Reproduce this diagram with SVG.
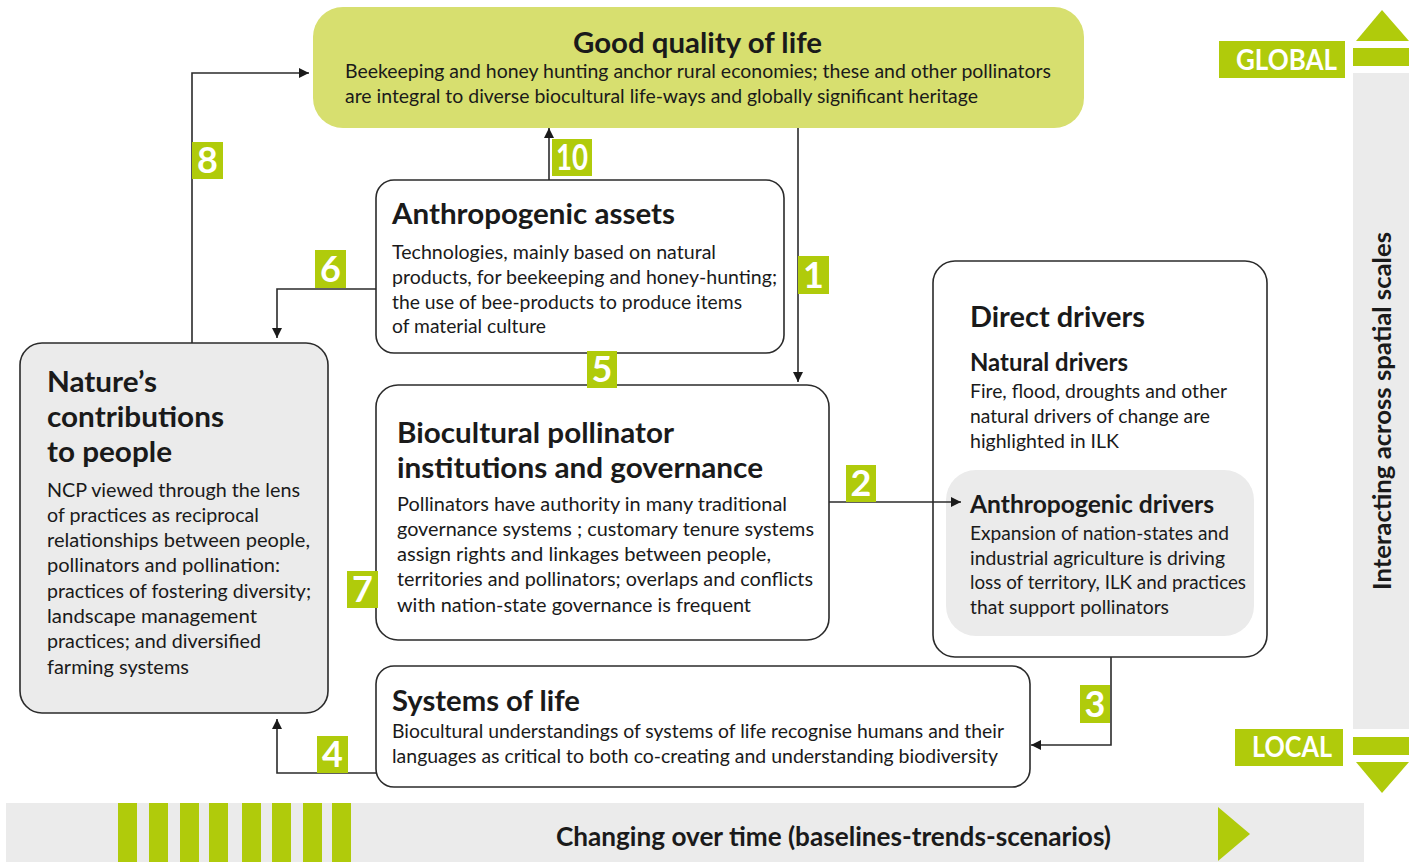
<svg xmlns="http://www.w3.org/2000/svg" width="1409" height="862" viewBox="0 0 1409 862">
<defs>
<marker id="ah" viewBox="0 0 10 10" refX="10" refY="5" markerWidth="10" markerHeight="10" markerUnits="userSpaceOnUse" orient="auto">
<path d="M0,0 L10,5 L0,10 Z" fill="#1a1a1a"/>
</marker>
<style>
.box{fill:#ffffff;stroke:#2b2b2b;stroke-width:1.6}
.grey{fill:#ebebeb}
.t{font-family:Lato,"Open Sans","Liberation Sans",sans-serif;fill:#1a1a1a}
.h{font-weight:700;font-size:29px}
.s{font-weight:700;font-size:24px}
.b{font-size:19.5px}
.num{font-family:Lato,"Open Sans","Liberation Sans",sans-serif;font-weight:700;font-size:36px;fill:#ffffff;text-anchor:middle}
.lab{fill:#b0cb0b}
.con{fill:none;stroke:#2b2b2b;stroke-width:1.6}
.w{font-family:Lato,"Open Sans","Liberation Sans",sans-serif;font-weight:700;font-size:29px;fill:#ffffff}
</style>
</defs>
<rect width="1409" height="862" fill="#ffffff"/>

<!-- side scale bar -->
<g id="scale">
<rect x="1353" y="73" width="56" height="656" class="grey"/>
<rect x="1353" y="48" width="56" height="18" class="lab"/>
<polygon points="1382,10 1409,41 1356,41" class="lab"/>
<rect x="1353" y="737" width="56" height="18" class="lab"/>
<polygon points="1356,762 1409,762 1382,793" class="lab"/>
<rect x="1219" y="41" width="126" height="37" class="lab"/>
<text x="1236" y="70" class="w" textLength="101" lengthAdjust="spacingAndGlyphs">GLOBAL</text>
<rect x="1235" y="729" width="108" height="37" class="lab"/>
<text x="1252" y="757" class="w" textLength="80" lengthAdjust="spacingAndGlyphs">LOCAL</text>
<text transform="translate(1391,590) rotate(-90)" class="t" font-weight="700" font-size="25" textLength="358" lengthAdjust="spacingAndGlyphs">Interacting across spatial scales</text>
</g>

<!-- time bar -->
<g id="time">
<rect x="6" y="803" width="1358" height="59" class="grey"/>
<rect x="118" y="803" width="19" height="59" class="lab"/>
<rect x="149" y="803" width="19" height="59" class="lab"/>
<rect x="180" y="803" width="19" height="59" class="lab"/>
<rect x="209" y="803" width="19" height="59" class="lab"/>
<rect x="242" y="803" width="19" height="59" class="lab"/>
<rect x="272" y="803" width="19" height="59" class="lab"/>
<rect x="303" y="803" width="19" height="59" class="lab"/>
<rect x="332" y="803" width="19" height="59" class="lab"/>
<polygon points="1218,807 1250,834 1218,861" class="lab"/>
<text x="556" y="846" class="t" font-weight="700" font-size="27" textLength="555" lengthAdjust="spacingAndGlyphs">Changing over time (baselines-trends-scenarios)</text>
</g>

<!-- nodes -->
<g id="good-quality">
<rect x="313" y="7" width="771" height="121" rx="30" fill="#d7df6f"/>
<text x="573" y="53" class="t h" textLength="249" lengthAdjust="spacingAndGlyphs">Good quality of life</text>
<text x="345" y="78" class="t b" textLength="706" lengthAdjust="spacingAndGlyphs">Beekeeping and honey hunting anchor rural economies; these and other pollinators</text>
<text x="345" y="103" class="t b" textLength="633" lengthAdjust="spacingAndGlyphs">are integral to diverse biocultural life-ways and globally significant heritage</text>
</g>

<g id="anthropogenic-assets">
<rect x="376" y="180" width="408" height="173" rx="18" class="box"/>
<text x="392" y="224" class="t h" textLength="283" lengthAdjust="spacingAndGlyphs">Anthropogenic assets</text>
<text x="392" y="259" class="t b" textLength="324" lengthAdjust="spacingAndGlyphs">Technologies, mainly based on natural</text>
<text x="392" y="284" class="t b" textLength="385" lengthAdjust="spacingAndGlyphs">products, for beekeeping and honey-hunting;</text>
<text x="392" y="309" class="t b" textLength="350" lengthAdjust="spacingAndGlyphs">the use of bee-products to produce items</text>
<text x="392" y="333" class="t b" textLength="154" lengthAdjust="spacingAndGlyphs">of material culture</text>
</g>

<g id="biocultural">
<rect x="376" y="385" width="453" height="255" rx="22" class="box"/>
<text x="397" y="443" class="t h" textLength="277" lengthAdjust="spacingAndGlyphs">Biocultural pollinator</text>
<text x="397" y="478" class="t h" textLength="366" lengthAdjust="spacingAndGlyphs">institutions and governance</text>
<text x="397" y="511" class="t b" textLength="390" lengthAdjust="spacingAndGlyphs">Pollinators have authority in many traditional</text>
<text x="397" y="536" class="t b" textLength="417" lengthAdjust="spacingAndGlyphs">governance systems ; customary tenure systems</text>
<text x="397" y="561" class="t b" textLength="374" lengthAdjust="spacingAndGlyphs">assign rights and linkages between people,</text>
<text x="397" y="586" class="t b" textLength="416" lengthAdjust="spacingAndGlyphs">territories and pollinators; overlaps and conflicts</text>
<text x="397" y="612" class="t b" textLength="354" lengthAdjust="spacingAndGlyphs">with nation-state governance is frequent</text>
</g>

<g id="nature-contributions">
<rect x="20" y="343" width="308" height="370" rx="22" fill="#ebebeb" stroke="#2b2b2b" stroke-width="1.6"/>
<text x="47" y="392" class="t h" textLength="110" lengthAdjust="spacingAndGlyphs">Nature’s</text>
<text x="47" y="427" class="t h" textLength="177" lengthAdjust="spacingAndGlyphs">contributions</text>
<text x="47" y="462" class="t h" textLength="125" lengthAdjust="spacingAndGlyphs">to people</text>
<text x="47" y="497" class="t b" textLength="253" lengthAdjust="spacingAndGlyphs">NCP viewed through the lens</text>
<text x="47" y="522" class="t b" textLength="212" lengthAdjust="spacingAndGlyphs">of practices as reciprocal</text>
<text x="47" y="547" class="t b" textLength="263" lengthAdjust="spacingAndGlyphs">relationships between people,</text>
<text x="47" y="572" class="t b" textLength="233" lengthAdjust="spacingAndGlyphs">pollinators and pollination:</text>
<text x="47" y="598" class="t b" textLength="264" lengthAdjust="spacingAndGlyphs">practices of fostering diversity;</text>
<text x="47" y="623" class="t b" textLength="210" lengthAdjust="spacingAndGlyphs">landscape management</text>
<text x="47" y="648" class="t b" textLength="214" lengthAdjust="spacingAndGlyphs">practices; and diversified</text>
<text x="47" y="674" class="t b" textLength="142" lengthAdjust="spacingAndGlyphs">farming systems</text>
</g>

<g id="direct-drivers">
<rect x="933" y="261" width="334" height="396" rx="22" class="box"/>
<rect x="946" y="470" width="308" height="166" rx="30" fill="#ebebeb"/>
<text x="970" y="327" class="t h" textLength="175" lengthAdjust="spacingAndGlyphs">Direct drivers</text>
<text x="970" y="371" class="t s" textLength="158" lengthAdjust="spacingAndGlyphs">Natural drivers</text>
<text x="970" y="398" class="t b" textLength="257" lengthAdjust="spacingAndGlyphs">Fire, flood, droughts and other</text>
<text x="970" y="423" class="t b" textLength="240" lengthAdjust="spacingAndGlyphs">natural drivers of change are</text>
<text x="970" y="448" class="t b" textLength="149" lengthAdjust="spacingAndGlyphs">highlighted in ILK</text>
<text x="970" y="513" class="t s" textLength="244" lengthAdjust="spacingAndGlyphs">Anthropogenic  drivers</text>
<text x="970" y="540" class="t b" textLength="259" lengthAdjust="spacingAndGlyphs">Expansion of nation-states and</text>
<text x="970" y="565" class="t b" textLength="255" lengthAdjust="spacingAndGlyphs">industrial agriculture is driving</text>
<text x="970" y="589" class="t b" textLength="276" lengthAdjust="spacingAndGlyphs">loss of territory, ILK and practices</text>
<text x="970" y="614" class="t b" textLength="199" lengthAdjust="spacingAndGlyphs">that support pollinators</text>
</g>

<g id="systems-of-life">
<rect x="376" y="666" width="654" height="121" rx="18" class="box"/>
<text x="392" y="711" class="t h" textLength="188" lengthAdjust="spacingAndGlyphs">Systems of life</text>
<text x="392" y="738" class="t b" textLength="612" lengthAdjust="spacingAndGlyphs">Biocultural understandings of systems of life recognise humans and their</text>
<text x="392" y="763" class="t b" textLength="606" lengthAdjust="spacingAndGlyphs">languages as critical to both co-creating and understanding biodiversity</text>
</g>

<!-- connectors -->
<g id="connectors">
<path class="con" d="M798,128 V382" marker-end="url(#ah)"/>
<path class="con" d="M829,502 H961" marker-end="url(#ah)"/>
<path class="con" d="M1111,657 V745 H1031" marker-end="url(#ah)"/>
<path class="con" d="M377,773 H277 V719" marker-end="url(#ah)"/>
<path class="con" d="M376,289 H277 V338" marker-end="url(#ah)"/>
<path class="con" d="M192,343 V73 H309" marker-end="url(#ah)"/>
<path class="con" d="M549,180 V128" marker-end="url(#ah)"/>
</g>

<!-- number labels -->
<g id="labels">
<rect x="798" y="256" width="31" height="38" class="lab"/><text x="813.5" y="288" class="num">1</text>
<rect x="846" y="465" width="30" height="37" class="lab"/><text x="861" y="496" class="num">2</text>
<rect x="1080" y="685" width="30" height="38" class="lab"/><text x="1095" y="717" class="num">3</text>
<rect x="317" y="736" width="31" height="37" class="lab"/><text x="332.5" y="767" class="num">4</text>
<rect x="587" y="351" width="30" height="37" class="lab"/><text x="602" y="382" class="num">5</text>
<rect x="315" y="250" width="31" height="38" class="lab"/><text x="330.5" y="282" class="num">6</text>
<rect x="347" y="571" width="31" height="37" class="lab"/><text x="362.5" y="602" class="num">7</text>
<rect x="192" y="142" width="31" height="37" class="lab"/><text x="207.5" y="173" class="num">8</text>
<rect x="552" y="139" width="40" height="37" class="lab"/><text x="572" y="170" class="num" textLength="32" lengthAdjust="spacingAndGlyphs">10</text>
</g>
</svg>
